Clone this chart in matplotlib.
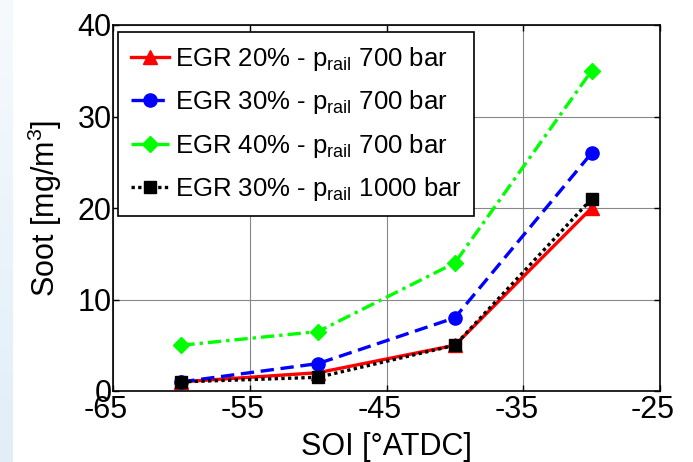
import numpy as np
import matplotlib
matplotlib.use("Agg")
import matplotlib.pyplot as plt
import matplotlib.transforms as mtransforms
from matplotlib.colors import LinearSegmentedColormap

soi = [-60, -50, -40, -30]
egr20_700 = [1.0, 2.0, 5.0, 20.0]
egr30_700 = [1.0, 3.0, 8.0, 26.0]
egr40_700 = [5.0, 6.5, 14.0, 35.0]
egr30_1000 = [1.0, 1.5, 5.0, 21.0]
labels = [r"EGR 20% - ${\mathrm{p}}_{\mathrm{rail}}$ 700 bar",
          r"EGR 30% - ${\mathrm{p}}_{\mathrm{rail}}$ 700 bar",
          r"EGR 40% - ${\mathrm{p}}_{\mathrm{rail}}$ 700 bar",
          r"EGR 30% - ${\mathrm{p}}_{\mathrm{rail}}$ 1000 bar"]
xticks = [-65, -55, -45, -35, -25]
yticks = [0, 10, 20, 30, 40]

plt.rcParams["font.family"] = ["Liberation Sans", "DejaVu Sans"]
plt.rcParams["mathtext.fontset"] = "custom"
plt.rcParams["mathtext.rm"] = "Liberation Sans"
plt.rcParams["mathtext.it"] = "Liberation Sans:italic"
plt.rcParams["axes.unicode_minus"] = False

fig = plt.figure(figsize=(6.93, 4.62), dpi=100)
fig.patch.set_facecolor("white")

# light-blue slide strip on the left
bg = fig.add_axes([0, 0, 13 / 693, 1])
grad = np.linspace(0, 1, 256).reshape(-1, 1)
cmap = LinearSegmentedColormap.from_list("g", ["#f6fafd", "#e1eef8"])
bg.imshow(grad, aspect="auto", cmap=cmap, extent=[0, 1, 0, 1], origin="upper")
bg.set_axis_off()

ax = fig.add_axes([113 / 693, 1 - 391 / 462, (660 - 113) / 693, (391 - 25) / 462])
ax.plot(soi, egr20_700, color="red", ls="-", lw=2.4, marker="^", ms=10, label=labels[0])
ax.plot(soi, egr30_700, color="blue", ls=(0, (4, 2)), lw=2.4, marker="o", ms=9.5, label=labels[1])
ax.plot(soi, egr40_700, color="#00ff00", ls=(0, (4, 1.5, 1, 1.5)), lw=2.4, marker="D", ms=8, label=labels[2])
ax.plot(soi, egr30_1000, color="black", ls=(0, (1, 1)), lw=2.4, marker="s", ms=9, label=labels[3])

ax.set_xlim(-65, -25)
ax.set_ylim(0, 40)
ax.set_xticks(xticks)
ax.set_yticks(yticks)
ax.set_xticklabels([str(t) for t in xticks])
ax.set_yticklabels([str(t) for t in yticks])
ax.tick_params(labelsize=22, direction="in", length=4, width=1, top=True, right=True, pad=1)
ax.tick_params(axis="x", pad=3)
off = mtransforms.ScaledTranslation(-7 / 100, 0, fig.dpi_scale_trans)
for lab in ax.get_xticklabels():
    lab.set_transform(lab.get_transform() + off)
ax.grid(True, color="#888888", lw=0.8, ls="-")
for s in ax.spines.values():
    s.set_linewidth(1.2)
ax.set_xlabel("SOI [°ATDC]", fontsize=22, labelpad=5)
ax.set_ylabel(r"Soot [mg/m$^3$]", fontsize=22, labelpad=10)

leg = ax.legend(loc="upper left", bbox_to_anchor=(5 / 547, 1 - 7 / 366), fontsize=18.5,
                frameon=True, fancybox=False, edgecolor="black", framealpha=1,
                handlelength=1.5, handletextpad=0.2, borderpad=0.5, labelspacing=0.6,
                borderaxespad=0)
leg.get_frame().set_linewidth(1.2)

fig.savefig("out.png", dpi=100)
